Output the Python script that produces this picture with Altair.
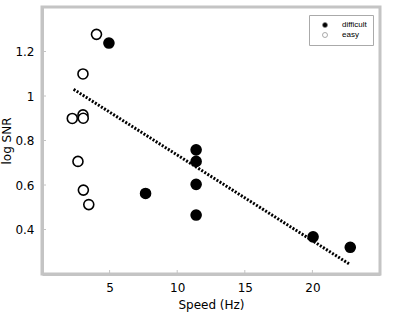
import altair as alt
import pandas as pd

# Data
easy_x = [4.03, 3.03, 2.24, 3.03, 3.05, 2.66, 3.06, 3.46]
easy_y = [1.277, 1.099, 0.899, 0.915, 0.900, 0.706, 0.577, 0.512]
diff_x = [4.95, 7.66, 11.4, 11.4, 11.4, 11.4, 20.05, 22.8]
diff_y = [1.238, 0.562, 0.758, 0.706, 0.603, 0.465, 0.367, 0.320]
fit_x = [2.34, 22.8]
fit_y = [1.03, 0.242]
x_ticks = [5, 10, 15, 20]
y_ticks = [0.4, 0.6, 0.8, 1.0, 1.2]
groups = ["difficult", "easy"]

pts = pd.DataFrame({
    "speed": easy_x + diff_x,
    "snr": easy_y + diff_y,
    "group": ["easy"] * len(easy_x) + ["difficult"] * len(diff_x),
})
fit = pd.DataFrame({"speed": fit_x, "snr": fit_y})
xt = pd.DataFrame({"t": x_ticks})
yt = pd.DataFrame({"t": y_ticks})

W, H = 338, 267
FONT = "DejaVu Sans"
GRAY = "#c4c4c4"

xscale = alt.Scale(domain=[0, 25], nice=False, zero=False)
yscale = alt.Scale(domain=[0.2, 1.4], nice=False, zero=False)

xaxis = alt.Axis(values=x_ticks, title="Speed (Hz)", labelPadding=8, titlePadding=6)
yaxis = alt.Axis(values=y_ticks, title="log SNR", format=".2~f", labelPadding=8,
                 titleX=-36, titleY=H / 2, titleBaseline="middle", titleAngle=270)

line = alt.Chart(fit).mark_line(color="black", strokeWidth=3, strokeDash=[2, 1.6]).encode(
    x=alt.X("speed:Q", scale=xscale, axis=xaxis),
    y=alt.Y("snr:Q", scale=yscale, axis=yaxis),
)

points = alt.Chart(pts).mark_point(filled=True, size=100, stroke="black", strokeWidth=1.6, opacity=1).encode(
    x=alt.X("speed:Q", scale=xscale, axis=xaxis),
    y=alt.Y("snr:Q", scale=yscale, axis=yaxis),
    fill=alt.Fill("group:N", scale=alt.Scale(domain=groups, range=["black", "white"]),
                  legend=alt.Legend(title=None, orient="none", legendX=267, legendY=8,
                                    strokeColor="#aaaaaa", fillColor="white", padding=6,
                                    labelFont="Liberation Sans", labelFontSize=8,
                                    labelColor="black", symbolSize=25,
                                    symbolStrokeColor="#888888", symbolStrokeWidth=0.7,
                                    rowPadding=2, labelOffset=13, symbolOffset=6)),
)

xticks = alt.Chart(xt).mark_rule(color=GRAY, strokeWidth=1).encode(
    x=alt.X("t:Q", scale=xscale, axis=xaxis), y=alt.value(H), y2=alt.value(H - 4))
yticks = alt.Chart(yt).mark_rule(color=GRAY, strokeWidth=1).encode(
    y=alt.Y("t:Q", scale=yscale, axis=yaxis), x=alt.value(0), x2=alt.value(4))

chart = alt.layer(xticks, yticks, line, points).properties(
    width=W, height=H,
    autosize=alt.AutoSizeParams(type="none"),
    padding={"left": 42, "top": 7, "right": 17, "bottom": 44},
    background="white",
).configure_view(stroke=GRAY, strokeWidth=3).configure_axis(
    grid=False, tickSize=0, domainColor=GRAY, domainWidth=3,
    labelFont=FONT, titleFont=FONT, labelFontSize=12, titleFontSize=12,
    titleFontWeight="normal", labelColor="black", titleColor="black",
)

chart.save("out.html", embed_options={"renderer": "svg", "actions": False})
